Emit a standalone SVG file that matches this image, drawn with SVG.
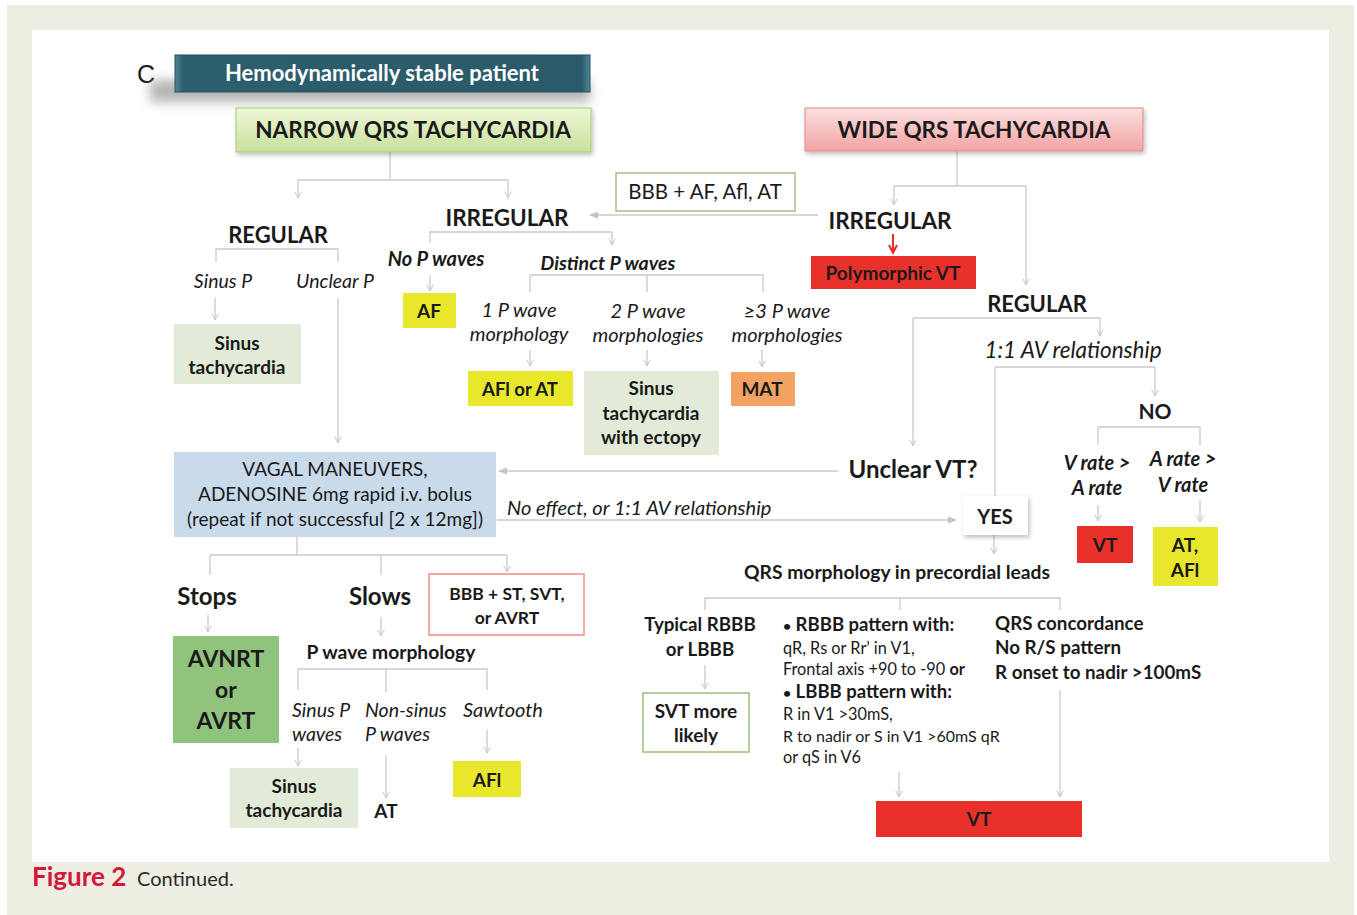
<svg xmlns="http://www.w3.org/2000/svg" width="1357" height="915" viewBox="0 0 1357 915">
<defs>
<style>
.t{font-family:Lato,"Liberation Sans",sans-serif;fill:#1a1a1a}
.b{font-weight:bold}
.i{font-style:italic}
.c{text-anchor:middle}
.ln{fill:none;stroke:#cacaca;stroke-width:1.3}
.ar{marker-end:url(#chev)}
.yel{fill:#e8e72c}
.red{fill:#e8312b}
.gr{fill:#e2ebd8}
</style>
<marker id="chev" viewBox="0 0 10 10" refX="9" refY="5" markerWidth="8" markerHeight="8" markerUnits="userSpaceOnUse" orient="auto">
<path d="M1,1 L9,5 L1,9" fill="none" stroke="#c4c4c4" stroke-width="1.2"/>
</marker>
<marker id="tri" viewBox="0 0 10 10" refX="9" refY="5" markerWidth="9" markerHeight="9" markerUnits="userSpaceOnUse" orient="auto">
<path d="M0,1 L10,5 L0,9 Z" fill="#c4c4c4"/>
</marker>
<marker id="redchev" viewBox="0 0 10 10" refX="9" refY="5" markerWidth="10" markerHeight="10" markerUnits="userSpaceOnUse" orient="auto">
<path d="M1,1 L9,5 L1,9" fill="none" stroke="#e0302a" stroke-width="2"/>
</marker>
<linearGradient id="gGreen" x1="0" y1="0" x2="0" y2="1">
<stop offset="0" stop-color="#eef6d6"/><stop offset="1" stop-color="#c8e19c"/>
</linearGradient>
<linearGradient id="gPink" x1="0" y1="0" x2="0" y2="1">
<stop offset="0" stop-color="#fbe0e0"/><stop offset="1" stop-color="#f3a3a3"/>
</linearGradient>
<linearGradient id="gTeal" x1="0" y1="0" x2="1" y2="0">
<stop offset="0" stop-color="#4f8796"/><stop offset="0.02" stop-color="#2d5e6e"/><stop offset="0.98" stop-color="#2b5b6b"/><stop offset="1" stop-color="#4f8796"/>
</linearGradient>
<filter id="sh" x="-20%" y="-40%" width="140%" height="200%">
<feGaussianBlur stdDeviation="6"/>
</filter>
<filter id="ds" x="-10%" y="-20%" width="130%" height="160%">
<feDropShadow dx="1.5" dy="2.5" stdDeviation="2" flood-color="#000" flood-opacity="0.25"/>
</filter>
</defs>

<rect x="0" y="0" width="1357" height="915" fill="#ffffff"/>
<rect x="7" y="5" width="1347" height="910" fill="#efeee3"/>
<rect x="32" y="30" width="1297" height="832" fill="#ffffff"/>

<text x="146" y="83" font-family="Liberation Sans,Arial,sans-serif" font-size="25" text-anchor="middle" fill="#1a1a1a">C</text>

<g id="connectors">
<path class="ln" d="M390,152 V180 M298,180 H508"/>
<path class="ln ar" d="M298,180 V198"/>
<path class="ln ar" d="M508,180 V198"/>
<path class="ln" d="M216,262 V249 H338 V262"/>
<path class="ln ar" d="M215,298 V320"/>
<path class="ln ar" d="M338,298 V443"/>
<path class="ln" d="M430,243 V232 H612"/>
<path class="ln ar" d="M612,232 V245"/>
<path class="ln ar" d="M430,275 V291"/>
<path class="ln" d="M530,292 V275 H763 V292 M647,275 V292"/>
<path class="ln ar" d="M530,350 V366"/>
<path class="ln ar" d="M647,350 V366"/>
<path class="ln ar" d="M762,350 V367"/>
<path class="ln" d="M957,151 V186 M894,186 H1026"/>
<path class="ln ar" d="M894,186 V205"/>
<path class="ln ar" d="M1026,186 V285"/>
<path class="ln" d="M818,215 H590" marker-end="url(#tri)"/>
<path d="M893,234 V253" fill="none" stroke="#e0302a" stroke-width="2" marker-end="url(#redchev)"/>
<path class="ln" d="M913,318 H1100"/>
<path class="ln ar" d="M1100,318 V336"/>
<path class="ln ar" d="M913,318 V446"/>
<path class="ln" d="M995,367 H1155 M995,367 V496"/>
<path class="ln ar" d="M1155,367 V396"/>
<path class="ln" d="M1098,445 V427 H1200 V445"/>
<path class="ln ar" d="M1098,505 V521"/>
<path class="ln ar" d="M1200,500 V522"/>
<path class="ln" d="M838,471 H499" marker-end="url(#tri)"/>
<path class="ln" d="M497,520 H956" marker-end="url(#tri)"/>
<path class="ln ar" d="M994,535 V554"/>
<path class="ln" d="M705,610 V598 H1060 V610 M900,598 V610"/>
<path class="ln ar" d="M705,665 V689"/>
<path class="ln ar" d="M899,772 V797"/>
<path class="ln ar" d="M1060,690 V797"/>
<path class="ln" d="M297,537 V555 M210,555 H507 M210,555 V575 M381,555 V575"/>
<path class="ln ar" d="M507,555 V572"/>
<path class="ln ar" d="M208,615 V632"/>
<path class="ln ar" d="M381,617 V636"/>
<path class="ln" d="M298,690 V669 H487 V690 M386,669 V692"/>
<path class="ln ar" d="M298,748 V766"/>
<path class="ln ar" d="M386,755 V798"/>
<path class="ln ar" d="M487,730 V753"/>
</g>

<g id="header">
<rect x="150" y="80" width="440" height="22" fill="#777" opacity="0.55" filter="url(#sh)"/>
<rect x="175" y="55" width="415" height="37" fill="url(#gTeal)" stroke="#24505e" stroke-width="1"/>
<text class="t b c" x="382" y="81" font-size="22" style="fill:#ffffff">Hemodynamically stable patient</text>
</g>

<g id="narrow">
<rect x="236" y="108" width="355" height="44" fill="url(#gGreen)" stroke="#a9c97e" stroke-width="1" filter="url(#ds)"/>
<text class="t b c" x="413" y="138" font-size="22.5">NARROW QRS TACHYCARDIA</text>
</g>

<g id="wide">
<rect x="805" y="108" width="338" height="43" fill="url(#gPink)" stroke="#e28a8a" stroke-width="1" filter="url(#ds)"/>
<text class="t b c" x="974" y="138" font-size="22.5">WIDE QRS TACHYCARDIA</text>
</g>

<g id="regular-left"><text class="t b c" x="278" y="243" font-size="22">REGULAR</text></g>
<g id="irregular-left"><text class="t b c" x="507" y="226" font-size="22.5">IRREGULAR</text></g>
<g id="sinus-p"><text class="t i c" x="223" y="288" font-size="19.5">Sinus P</text></g>
<g id="unclear-p"><text class="t i c" x="335" y="288" font-size="19.5">Unclear P</text></g>

<g id="sinus-tachy-1">
<rect class="gr" x="174" y="324" width="127" height="60"/>
<text class="t b c" x="237" y="350" font-size="19">Sinus</text>
<text class="t b c" x="237" y="374" font-size="19">tachycardia</text>
</g>

<g id="no-p"><text class="t b i c" x="436" y="266" font-size="20">No P waves</text></g>
<g id="af">
<rect class="yel" x="403" y="293" width="53" height="35"/>
<text class="t b c" x="429" y="318" font-size="19">AF</text>
</g>
<g id="distinct-p"><text class="t b i c" x="608" y="270" font-size="19.5">Distinct P waves</text></g>

<g id="one-p">
<text class="t i c" x="519" y="317" font-size="20">1 P wave</text>
<text class="t i c" x="519" y="341" font-size="20">morphology</text>
</g>
<g id="two-p">
<text class="t i c" x="648" y="318" font-size="20">2 P wave</text>
<text class="t i c" x="648" y="342" font-size="20">morphologies</text>
</g>
<g id="three-p">
<text class="t i c" x="787" y="318" font-size="20">≥3 P wave</text>
<text class="t i c" x="787" y="342" font-size="20">morphologies</text>
</g>

<g id="afl-at">
<rect class="yel" x="468" y="371" width="105" height="35"/>
<text class="t b c" x="520" y="396" font-size="18.5">AFl or AT</text>
</g>
<g id="sinus-ectopy">
<rect class="gr" x="584" y="371" width="135" height="84"/>
<text class="t b c" x="651" y="395" font-size="19">Sinus</text>
<text class="t b c" x="651" y="420" font-size="19">tachycardia</text>
<text class="t b c" x="651" y="444" font-size="19">with ectopy</text>
</g>
<g id="mat">
<rect x="731" y="372" width="64" height="34" fill="#f3a263"/>
<text class="t b c" x="762" y="396" font-size="19">MAT</text>
</g>

<g id="bbb-af">
<rect x="616" y="173" width="179" height="38" fill="#ffffff" stroke="#a8ba8a" stroke-width="1.5"/>
<text class="t c" x="705" y="199" font-size="20.5">BBB + AF, Afl, AT</text>
</g>

<g id="irregular-right"><text class="t b c" x="890" y="229" font-size="22.5">IRREGULAR</text></g>
<g id="poly-vt">
<rect class="red" x="811" y="256" width="165" height="33"/>
<text class="t b c" x="893" y="280" font-size="19">Polymorphic VT</text>
</g>
<g id="regular-right"><text class="t b c" x="1037" y="312" font-size="22">REGULAR</text></g>
<g id="av-rel"><text class="t i c" x="1073" y="358" font-size="22.5">1:1 AV relationship</text></g>
<g id="no"><text class="t b c" x="1155" y="419" font-size="21">NO</text></g>
<g id="v-rate">
<text class="t b i c" x="1097" y="470" font-size="20">V rate &gt;</text>
<text class="t b i c" x="1097" y="495" font-size="20">A rate</text>
</g>
<g id="a-rate">
<text class="t b i c" x="1183" y="466" font-size="20">A rate &gt;</text>
<text class="t b i c" x="1183" y="492" font-size="20">V rate</text>
</g>
<g id="vt-small">
<rect class="red" x="1077" y="526" width="56" height="37"/>
<text class="t b c" x="1105" y="552" font-size="19">VT</text>
</g>
<g id="at-afl">
<rect class="yel" x="1153" y="527" width="65" height="59"/>
<text class="t b c" x="1185" y="552" font-size="19">AT,</text>
<text class="t b c" x="1185" y="577" font-size="19">AFl</text>
</g>

<g id="unclear-vt"><text class="t b c" x="913" y="478" font-size="24">Unclear VT?</text></g>
<g id="yes">
<rect x="963" y="496" width="65" height="39" fill="#ffffff" filter="url(#ds)"/>
<text class="t b c" x="995" y="524" font-size="20">YES</text>
</g>

<g id="vagal">
<rect x="174" y="452" width="322" height="85" fill="#c9daeb"/>
<text class="t c" x="335" y="476" font-size="19">VAGAL MANEUVERS,</text>
<text class="t c" x="335" y="501" font-size="19">ADENOSINE 6mg rapid i.v. bolus</text>
<text class="t c" x="335" y="526" font-size="19">(repeat if not successful [2 x 12mg])</text>
</g>
<g id="no-effect"><text class="t i" x="507" y="515" font-size="20">No effect, or 1:1 AV relationship</text></g>

<g id="qrs-morph"><text class="t b c" x="897" y="579" font-size="19.3">QRS morphology in precordial leads</text></g>
<g id="typical">
<text class="t b c" x="700" y="631" font-size="18.7">Typical RBBB</text>
<text class="t b c" x="700" y="656" font-size="18.7">or LBBB</text>
</g>
<g id="svt-likely">
<rect x="643" y="693" width="106" height="59" fill="#ffffff" stroke="#9dbf7e" stroke-width="1.5"/>
<text class="t b c" x="696" y="718" font-size="19">SVT more</text>
<text class="t b c" x="696" y="742" font-size="19">likely</text>
</g>
<g id="criteria">
<text class="t b" x="783" y="631" font-size="18.5"><tspan font-size="14">•</tspan> RBBB pattern with:</text>
<text class="t" x="783" y="654" font-size="16.3">qR, Rs or Rr’ in V1,</text>
<text class="t" x="783" y="675" font-size="16.3">Frontal axis +90 to -90 <tspan font-weight="bold">or</tspan></text>
<text class="t b" x="783" y="698" font-size="18.5"><tspan font-size="14">•</tspan> LBBB pattern with:</text>
<text class="t" x="783" y="720" font-size="16.3">R in V1 &gt;30mS,</text>
<text class="t" x="783" y="742" font-size="16">R to nadir or S in V1 &gt;60mS qR</text>
<text class="t" x="783" y="763" font-size="16.3">or qS in V6</text>
</g>
<g id="concordance">
<text class="t b" x="995" y="630" font-size="18.8">QRS concordance</text>
<text class="t b" x="995" y="654" font-size="18.8">No R/S pattern</text>
<text class="t b" x="995" y="679" font-size="18.8">R onset to nadir &gt;100mS</text>
</g>
<g id="vt-bottom">
<rect class="red" x="876" y="801" width="206" height="36"/>
<text class="t b c" x="979" y="826" font-size="19">VT</text>
</g>

<g id="stops"><text class="t b c" x="207" y="605" font-size="24">Stops</text></g>
<g id="slows"><text class="t b c" x="380" y="605" font-size="24">Slows</text></g>
<g id="bbb-st">
<rect x="429" y="574" width="155" height="61" fill="#ffffff" stroke="#f08a8a" stroke-width="1.5"/>
<text class="t b c" x="507" y="600" font-size="17.5">BBB + ST, SVT,</text>
<text class="t b c" x="507" y="624" font-size="17.5">or AVRT</text>
</g>
<g id="avnrt">
<rect x="173" y="636" width="106" height="107" fill="#90c47c"/>
<text class="t b c" x="226" y="667" font-size="23">AVNRT</text>
<text class="t b c" x="226" y="698" font-size="23">or</text>
<text class="t b c" x="226" y="729" font-size="23">AVRT</text>
</g>
<g id="p-morph"><text class="t b c" x="391" y="659" font-size="19.3">P wave morphology</text></g>
<g id="sinus-p-waves">
<text class="t i" x="292" y="717" font-size="19.5">Sinus P</text>
<text class="t i" x="292" y="741" font-size="19.5">waves</text>
</g>
<g id="non-sinus">
<text class="t i" x="365" y="717" font-size="19.5">Non-sinus</text>
<text class="t i" x="365" y="741" font-size="19.5">P waves</text>
</g>
<g id="sawtooth"><text class="t i" x="463" y="717" font-size="20">Sawtooth</text></g>
<g id="sinus-tachy-2">
<rect class="gr" x="230" y="768" width="128" height="60"/>
<text class="t b c" x="294" y="793" font-size="19">Sinus</text>
<text class="t b c" x="294" y="817" font-size="19">tachycardia</text>
</g>
<g id="at"><text class="t b c" x="386" y="818" font-size="19">AT</text></g>
<g id="afl">
<rect class="yel" x="453" y="761" width="68" height="36"/>
<text class="t b c" x="487" y="787" font-size="19">AFl</text>
</g>

<g id="caption">
<text x="32" y="886" font-family="Lato,'Liberation Sans',sans-serif" font-weight="bold" font-size="26" fill="#d3173d">Figure 2</text>
<text x="137" y="886" font-family="Lato,'Liberation Sans',sans-serif" font-size="20" fill="#2a2a2a">Continued.</text>
</g>
</svg>
